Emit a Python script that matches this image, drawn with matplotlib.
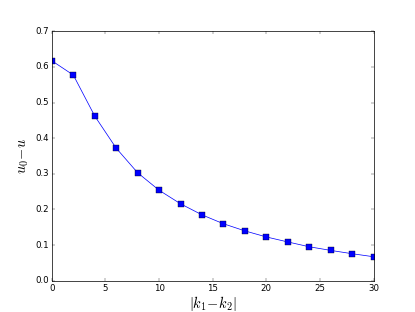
import matplotlib
matplotlib.use("Agg")
import matplotlib.pyplot as plt

plt.style.use('classic')
plt.rcParams['mathtext.fontset'] = 'cm'

k_diff = [0, 2, 4, 6, 8, 10, 12, 14, 16, 18, 20, 22, 24, 26, 28, 30]
u_diff = [0.617, 0.577, 0.462, 0.372, 0.303, 0.254, 0.216, 0.185, 0.160,
          0.140, 0.123, 0.109, 0.0955, 0.0853, 0.076, 0.0675]

dpi = 52
fig = plt.figure(figsize=(415 / dpi, 312 / dpi), dpi=dpi)
ax = fig.add_subplot(111)
fig.subplots_adjust(left=0.125, right=0.9, bottom=0.1, top=0.9)
ax.plot(k_diff, u_diff, 'b-s', markersize=7, linewidth=1)
ax.set_xlim(0, 30)
ax.set_ylim(0, 0.7)
ax.set_xlabel(r'$|k_1 \!-\! k_2|$', fontsize=20, labelpad=2)
ax.set_ylabel(r'$u_0 \!-\! u$', fontsize=20, labelpad=6)
fig.savefig('out.png', dpi=dpi)
